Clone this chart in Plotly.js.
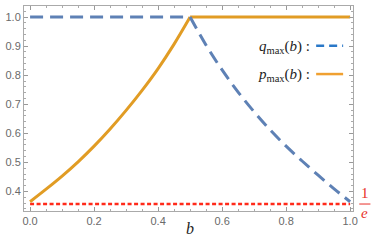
<!DOCTYPE html>
<html>
<head>
<meta charset="utf-8">
<script src="https://cdn.plot.ly/plotly-3.0.1.min.js"></script>
<style>html,body{margin:0;padding:0;background:#fff;}#chart{width:374px;height:244px;}</style>
</head>
<body>
<div id="chart"></div>
<script>
// b values (x axis)
const bValues = [0.00,0.05,0.10,0.15,0.20,0.25,0.30,0.35,0.40,0.45,0.50,
                 0.55,0.60,0.65,0.70,0.75,0.80,0.85,0.90,0.95,1.00];
// q_max(b)
const qMax = [1.0,1.0,1.0,1.0,1.0,1.0,1.0,1.0,1.0,1.0,1.0,
              0.903,0.818,0.742,0.674,0.612,0.556,0.505,0.456,0.409,0.365];
// p_max(b)
const pMax = [0.365,0.408,0.453,0.502,0.556,0.615,0.679,0.748,0.823,0.907,1.0,
              1.0,1.0,1.0,1.0,1.0,1.0,1.0,1.0,1.0,1.0];
// reference level 1/e (as drawn)
const refB = [0.0, 1.0];
const refLevel = [0.357, 0.357];
const xTicks = [0.0,0.2,0.4,0.6,0.8,1.0];
const yTicks = [0.4,0.5,0.6,0.7,0.8,0.9,1.0];

const blue = '#5E81B5', orange = '#E19C24', red = '#FF2A1A';
const kink = bValues.indexOf(0.5);

const traces = [
  {x: refB, y: refLevel, mode:'lines', line:{color:red, width:2.5, dash:'4px,2.5px'}, hoverinfo:'skip', showlegend:false},
  {x: bValues.slice(0, kink+1), y: pMax.slice(0, kink+1), mode:'lines', line:{color:orange, width:3, shape:'spline', smoothing:1}, showlegend:false},
  {x: bValues.slice(kink), y: pMax.slice(kink), mode:'lines', line:{color:orange, width:3}, showlegend:false},
  {x: bValues.slice(0, kink+1), y: qMax.slice(0, kink+1), mode:'lines', line:{color:blue, width:3, dash:'13px,7px'}, showlegend:false},
  {x: bValues.slice(kink), y: qMax.slice(kink), mode:'lines', line:{color:blue, width:3, dash:'13px,7px', shape:'spline', smoothing:1}, showlegend:false}
];

const tickFont = {family:'Liberation Sans, Arial, sans-serif', size:11, color:'#6a6a6a'};
const axisCommon = {
  showline:true, linecolor:'#aaa', linewidth:1, mirror:'allticks',
  ticks:'inside', ticklen:4, tickwidth:1, tickcolor:'#999',
  showgrid:false, zeroline:false, tickfont:tickFont,
};

const layout = {
  width:374, height:244,
  margin:{l:24, r:21, t:6, b:33, pad:0},
  paper_bgcolor:'#fff', plot_bgcolor:'#fff',
  xaxis: Object.assign({}, axisCommon, {
    range:[-0.019, 1.009], tickvals:xTicks, tickformat:'.1f',
    minor:{dtick:0.05, tick0:0, ticks:'inside', ticklen:2, tickcolor:'#aaa'}
  }),
  yaxis: Object.assign({}, axisCommon, {
    range:[0.333, 1.038], tickvals:yTicks, tickformat:'.1f',
    minor:{dtick:0.02, tick0:0, ticks:'inside', ticklen:2, tickcolor:'#aaa'}
  }),
  annotations:[
    {xref:'paper', yref:'paper', x:0.876, y:0.801, xanchor:'right', yanchor:'middle', showarrow:false,
     text:'<i>q</i><sub>max</sub>(<i>b</i>) :', font:{family:'Liberation Serif, serif', size:15, color:'#222'}},
    {xref:'paper', yref:'paper', x:0.876, y:0.663, xanchor:'right', yanchor:'middle', showarrow:false,
     text:'<i>p</i><sub>max</sub>(<i>b</i>) :', font:{family:'Liberation Serif, serif', size:15, color:'#222'}},
    {xref:'paper', yref:'paper', x:0.505, y:-0.085, xanchor:'center', yanchor:'middle', showarrow:false,
     text:'<i>b</i>', font:{family:'Liberation Serif, serif', size:16, color:'#222'}},
    {xref:'paper', yref:'paper', x:1.036, y:0.088, xanchor:'center', yanchor:'middle', showarrow:false,
     text:'1', font:{family:'Liberation Serif, serif', size:15, color:'#E8302A'}},
    {xref:'paper', yref:'paper', x:1.036, y:-0.01, xanchor:'center', yanchor:'middle', showarrow:false,
     text:'<i>e</i>', font:{family:'Liberation Serif, serif', size:15, color:'#E8302A'}}
  ],
  shapes:[
    {type:'line', xref:'paper', yref:'paper', x0:0.888, x1:0.970, y0:0.806, y1:0.806,
     line:{color:'#2A78C8', width:2.5, dash:'8px,5px'}},
    {type:'line', xref:'paper', yref:'paper', x0:0.888, x1:0.970, y0:0.668, y1:0.668,
     line:{color:'#F0A030', width:2.5}},
    {type:'line', xref:'paper', yref:'paper', x0:1.019, x1:1.053, y0:0.034, y1:0.034,
     line:{color:'#E8302A', width:1}}
  ]
};

Plotly.newPlot('chart', traces, layout, {staticPlot:true, displayModeBar:false});
</script>
</body>
</html>
